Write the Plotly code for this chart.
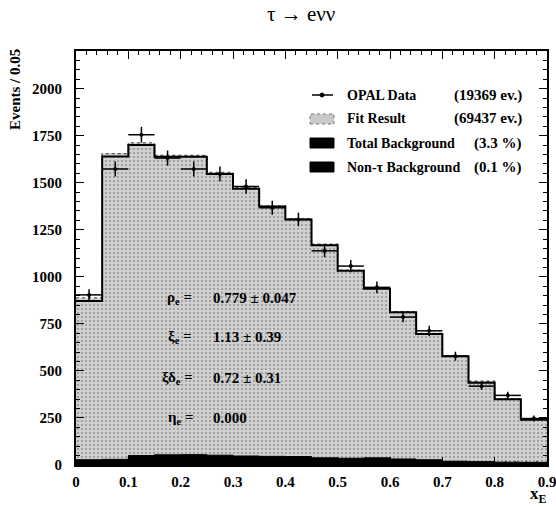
import plotly.graph_objects as go

# ---------------- data ----------------
bin_edges = [0.0, 0.05, 0.1, 0.15, 0.2, 0.25, 0.3, 0.35, 0.4, 0.45,
             0.5, 0.55, 0.6, 0.65, 0.7, 0.75, 0.8, 0.85, 0.9]
bin_centers = [0.025, 0.075, 0.125, 0.175, 0.225, 0.275, 0.325, 0.375, 0.425,
               0.475, 0.525, 0.575, 0.625, 0.675, 0.725, 0.775, 0.825, 0.875]
bin_halfwidth = [0.025] * 18

opal_data = [904, 1573, 1755, 1631, 1573, 1547, 1480, 1367, 1305,
             1138, 1057, 944, 786, 713, 578, 419, 370, 247]
opal_err = [30, 40, 42, 40, 40, 39, 38, 37, 36,
            34, 33, 31, 28, 27, 24, 20, 19, 16]

fit_result = [888, 1655, 1712, 1645, 1645, 1555, 1472, 1377, 1308,
              1173, 1035, 940, 815, 699, 581, 445, 352, 245]
fit_line = [872, 1640, 1700, 1638, 1638, 1547, 1468, 1374, 1305,
            1168, 1032, 937, 812, 696, 578, 437, 349, 240]
total_bkg = [28, 30, 50, 54, 55, 52, 48, 46, 45,
             38, 36, 38, 32, 28, 20, 18, 15, 14]
non_tau_bkg = [1, 1, 2, 2, 2, 1, 1, 1, 1, 1, 1, 1, 1, 1, 1, 1, 1, 1]

x_tickvals = [0, 0.1, 0.2, 0.3, 0.4, 0.5, 0.6, 0.7, 0.8, 0.9]
x_ticktext = ["0", "0.1", "0.2", "0.3", "0.4", "0.5", "0.6", "0.7", "0.8", "0.9"]
y_tickvals = [0, 250, 500, 750, 1000, 1250, 1500, 1750, 2000]
y_ticktext = ["0", "250", "500", "750", "1000", "1250", "1500", "1750", "2000"]

legend_labels = ["OPAL Data", "Fit Result", "Total Background", "Non-τ Background"]
legend_counts = ["(19369 ev.)", "(69437 ev.)", "(3.3 %)", "(0.1 %)"]

params = [("ρ<sub>e</sub> =", "0.779 ± 0.047"),
          ("ξ<sub>e</sub> =", "1.13 ± 0.39"),
          ("ξδ<sub>e</sub> =", "0.72 ± 0.31"),
          ("η<sub>e</sub> =", "0.000")]

# ---------------- layout geometry ----------------
W, H = 556, 507
ML, MR, MT, MB = 76, 9, 51, 42
PW, PH = W - ML - MR, H - MT - MB


def px(xp):
    return (xp - ML) / PW


def py(yp):
    return (H - MB - yp) / PH


def step(vals):
    return vals + [vals[-1]]


FONT = "Liberation Serif"

fig = go.Figure()

# Fit result (stippled fill, dotted top)
fig.add_trace(go.Scatter(
    x=bin_edges, y=step(fit_result), mode="lines", line_shape="hv",
    line=dict(color="#555555", width=1.3, dash="dot"),
    fill="tozeroy", fillcolor="#c6c6c6",
    fillpattern=dict(shape=".", fgcolor="#5c5c5c", bgcolor="#d0d0d0",
                     size=4, solidity=0.22),
    showlegend=False, hoverinfo="skip"))

# solid histogram outline
fig.add_trace(go.Scatter(
    x=bin_edges, y=step(fit_line), mode="lines", line_shape="hv",
    line=dict(color="black", width=2), showlegend=False, hoverinfo="skip"))

# total background
fig.add_trace(go.Scatter(
    x=bin_edges, y=step(total_bkg), mode="lines", line_shape="hv",
    line=dict(color="black", width=1), fill="tozeroy", fillcolor="black",
    showlegend=False, hoverinfo="skip"))

# non-tau background
fig.add_trace(go.Scatter(
    x=bin_edges, y=step(non_tau_bkg), mode="lines", line_shape="hv",
    line=dict(color="black", width=1), fill="tozeroy", fillcolor="black",
    showlegend=False, hoverinfo="skip"))

# data points
fig.add_trace(go.Scatter(
    x=bin_centers, y=opal_data, mode="markers",
    marker=dict(color="black", size=4),
    error_y=dict(type="data", array=opal_err, color="black", thickness=1.5, width=0),
    error_x=dict(type="data", array=bin_halfwidth, color="black", thickness=1.5, width=0),
    showlegend=False, hoverinfo="skip"))

shapes = []
annotations = []

# ---- manual legend ----
rows_y = [95, 119, 143, 167]
sym_x0, sym_x1 = 310, 334
shapes.append(dict(type="line", xref="paper", yref="paper",
                   x0=px(sym_x0 + 2), x1=px(sym_x1 - 1), y0=py(rows_y[0]), y1=py(rows_y[0]),
                   line=dict(color="black", width=1.5)))
shapes.append(dict(type="circle", xref="paper", yref="paper",
                   x0=px(320), x1=px(324), y0=py(rows_y[0] + 2), y1=py(rows_y[0] - 2),
                   fillcolor="black", line=dict(color="black", width=1)))
shapes.append(dict(type="rect", xref="paper", yref="paper",
                   x0=px(sym_x0), x1=px(sym_x1), y0=py(rows_y[1] + 5), y1=py(rows_y[1] - 5),
                   fillcolor="#cacaca", line=dict(color="#777777", width=1, dash="dot")))
for r in (2, 3):
    shapes.append(dict(type="rect", xref="paper", yref="paper",
                       x0=px(sym_x0), x1=px(sym_x1), y0=py(rows_y[r] + 5), y1=py(rows_y[r] - 5),
                       fillcolor="black", line=dict(color="black", width=1)))

for lab, cnt, yy in zip(legend_labels, legend_counts, rows_y):
    annotations.append(dict(xref="paper", yref="paper", x=px(345), y=py(yy),
                            text=lab, showarrow=False, xanchor="left", yanchor="middle",
                            font=dict(family=FONT, size=14, color="black", weight="bold")))
    annotations.append(dict(xref="paper", yref="paper", x=px(524), y=py(yy),
                            text=cnt, showarrow=False, xanchor="right", yanchor="middle",
                            font=dict(family=FONT, size=15, color="black", weight="bold")))

# ---- fit parameters ----
param_y = [298, 337, 378, 418]
param_lx = [165, 166, 160, 166]
for (lab, val), yy, lx in zip(params, param_y, param_lx):
    annotations.append(dict(xref="paper", yref="paper", x=px(lx), y=py(yy),
                            text=lab, showarrow=False, xanchor="left", yanchor="middle",
                            font=dict(family=FONT, size=15, color="black", weight="bold")))
    annotations.append(dict(xref="paper", yref="paper", x=px(211), y=py(yy),
                            text=val, showarrow=False, xanchor="left", yanchor="middle",
                            font=dict(family=FONT, size=15, color="black", weight="bold")))

# title
annotations.append(dict(xref="paper", yref="paper", x=px(301), y=py(14),
                        text="τ → eνν", showarrow=False, xanchor="center", yanchor="middle",
                        font=dict(family=FONT, size=21, color="black")))
# y title
annotations.append(dict(xref="paper", yref="paper", x=px(15), y=py(90),
                        text="Events / 0.05", showarrow=False, textangle=-90,
                        xanchor="center", yanchor="middle",
                        font=dict(family=FONT, size=15, color="black", weight="bold")))
# x title
annotations.append(dict(xref="paper", yref="paper", x=px(538), y=py(495),
                        text="x<sub>E</sub>", showarrow=False, xanchor="center", yanchor="middle",
                        font=dict(family=FONT, size=17, color="black", weight="bold")))

fig.update_layout(
    width=W, height=H,
    margin=dict(l=ML, r=MR, t=MT, b=MB, autoexpand=False),
    paper_bgcolor="white", plot_bgcolor="white",
    font=dict(family=FONT, color="black"),
    shapes=shapes, annotations=annotations, showlegend=False,
    xaxis=dict(range=[0, 0.9], tickvals=x_tickvals, ticktext=x_ticktext,
               ticks="inside", ticklen=8, tickwidth=1.3, tickcolor="black",
               showline=True, linecolor="black", linewidth=1.8, mirror="allticks",
               showgrid=False, zeroline=False, ticklabelstandoff=2,
               ticklabeloverflow="allow",
               tickfont=dict(family=FONT, size=15, color="black", weight="bold"),
               minor=dict(dtick=0.02, ticks="inside", ticklen=4, tickwidth=1, tickcolor="black",
                          showgrid=False)),
    yaxis=dict(range=[0, 2200], tickvals=y_tickvals, ticktext=y_ticktext,
               ticks="inside", ticklen=8, tickwidth=1.3, tickcolor="black",
               showline=True, linecolor="black", linewidth=1.8, mirror="allticks",
               showgrid=False, zeroline=False, ticklabelstandoff=9,
               ticklabeloverflow="allow",
               tickfont=dict(family=FONT, size=15, color="black", weight="bold"),
               minor=dict(dtick=50, ticks="inside", ticklen=4, tickwidth=1, tickcolor="black",
                          showgrid=False)),
)

fig.write_html("out.html", config={"displayModeBar": False},
               post_script="document.body.style.margin='0';")
